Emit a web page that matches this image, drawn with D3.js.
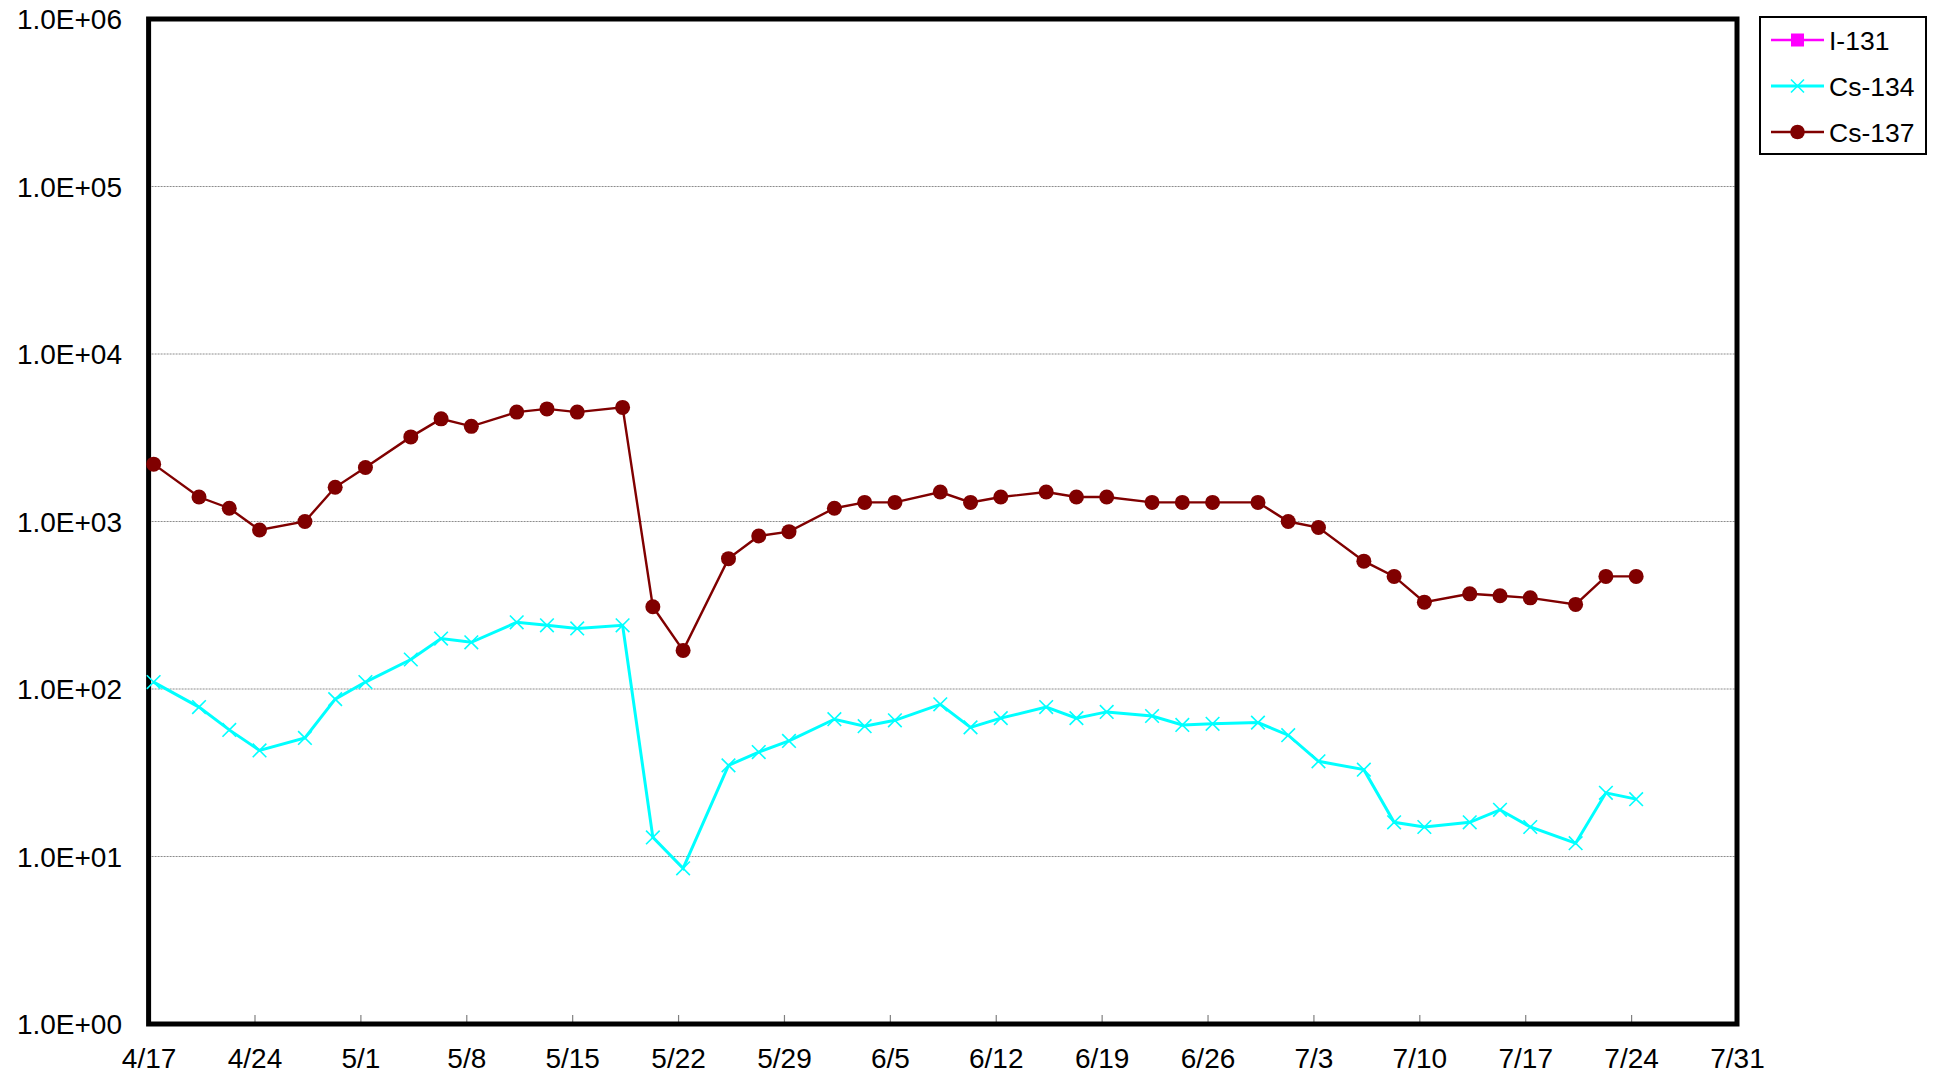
<!doctype html>
<meta charset="utf-8">
<title>I-131 / Cs-134 / Cs-137</title>
<script src="https://cdn.jsdelivr.net/npm/d3@7"></script>
<style>
  body { margin: 0; background: #fff; }
  text { font-family: "Liberation Sans", Arial, sans-serif; fill: #000; }
</style>
<body>
<svg id="chart" width="1933" height="1081"></svg>
<script>

// sampling dates (2011), one sample per date
var dates = ["4/17","4/20","4/22","4/24","4/27","4/29","5/1","5/4","5/6","5/8","5/11",
             "5/13","5/15","5/18","5/20","5/22","5/25","5/27","5/29","6/1","6/3","6/5",
             "6/8","6/10","6/12","6/15","6/17","6/19","6/22","6/24","6/26","6/29","7/1","7/3",
             "7/6","7/8","7/10","7/13","7/15","7/17","7/20","7/22","7/24"];

// I-131 was never detected in this period -> nothing plotted
var i131 = [];

var cs134 = [110, 78, 57, 43, 51, 87, 110, 150, 200, 190, 250,
             240, 230, 240, 13, 8.5, 35, 42, 49, 66, 60, 65,
             81, 59, 67, 78, 67, 73, 69, 61, 62, 63, 53, 37,
             33, 16, 15, 16, 19, 15, 12, 24, 22];

var cs137 = [2200, 1400, 1200, 890, 1000, 1600, 2100, 3200, 4100, 3700, 4500,
             4700, 4500, 4800, 310, 170, 600, 820, 870, 1200, 1300, 1300,
             1500, 1300, 1400, 1500, 1400, 1400, 1300, 1300, 1300, 1300, 1000, 920,
             580, 470, 330, 370, 360, 350, 320, 470, 470];

var xTickLabels = ["4/17","4/24","5/1","5/8","5/15","5/22","5/29","6/5","6/12","6/19","6/26","7/3","7/10","7/17","7/24","7/31"];
var yTickValues = [1, 10, 100, 1000, 10000, 100000, 1000000];

var sampleHour = 8;  // samples were taken in the morning

function parseDay(s, hour) {
  var p = s.split("/");
  return new Date(2011, +p[0] - 1, +p[1], hour || 0);
}

var series = [
  { name: "I-131",  color: "#ff00ff", marker: "square", values: i131 },
  { name: "Cs-134", color: "#00ffff", marker: "cross",  values: cs134 },
  { name: "Cs-137", color: "#800000", marker: "circle", values: cs137 }
];

// plot area (note: "top" is taken by window.top, so use other names)
var plotL = 148.6, plotR = 1737, plotT = 19, plotB = 1024;

var x = d3.scaleTime()
  .domain([parseDay("4/17"), parseDay("7/31")])
  .range([plotL, plotR]);

var y = d3.scaleLog()
  .domain([1, 1e6])
  .range([plotB, plotT]);

var svg = d3.select("#chart");

// grid lines
svg.append("g")
  .selectAll("line")
  .data(yTickValues.slice(1, -1))
  .enter().append("line")
    .attr("x1", plotL).attr("x2", plotR)
    .attr("y1", function(d) { return y(d); })
    .attr("y2", function(d) { return y(d); })
    .attr("stroke", "#8c8c8c")
    .attr("stroke-width", 1)
    .attr("stroke-dasharray", "2,1");

// y labels
svg.append("g")
  .selectAll("text")
  .data(yTickValues)
  .enter().append("text")
    .attr("x", 122)
    .attr("y", function(d) { return y(d); })
    .attr("dy", "0.36em")
    .attr("text-anchor", "end")
    .style("font-size", "28px")
    .text(function(d) { return d3.format(".1e")(d).replace("e", "E").replace(/E([+-])(\d)$/, "E$10$2"); });

// x axis: small inner ticks + labels
var xDates = xTickLabels.map(function(s) { return parseDay(s); });
var xAxis = d3.axisBottom(x)
  .tickValues(xDates)
  .tickSize(0)
  .tickPadding(24)
  .tickFormat(function(d, i) { return xTickLabels[i]; });

var gx = svg.append("g")
  .attr("transform", "translate(0," + plotB + ")")
  .call(xAxis);
gx.select(".domain").remove();
gx.selectAll("text")
  .style("font-size", "28px")
  .style("font-family", "'Liberation Sans', Arial, sans-serif")
  .attr("fill", "#000");
gx.selectAll(".tick").append("line")
  .attr("y1", -2).attr("y2", -9)
  .attr("stroke", "#808080")
  .attr("stroke-width", 1.2)
  .style("display", function(d, i) { return (i === 0 || i === xDates.length - 1) ? "none" : null; });

// plot frame
svg.append("rect")
  .attr("x", plotL).attr("y", plotT)
  .attr("width", plotR - plotL).attr("height", plotB - plotT)
  .attr("fill", "none")
  .attr("stroke", "#000")
  .attr("stroke-width", 5);

// markers
function drawMarker(g, type, color, size) {
  if (type === "circle") {
    g.append("circle").attr("r", size).attr("fill", color);
  } else if (type === "square") {
    g.append("rect").attr("x", -size).attr("y", -size)
      .attr("width", size * 2).attr("height", size * 2).attr("fill", color);
  } else {
    g.append("path")
      .attr("d", "M" + -size + "," + -size + "L" + size + "," + size + "M" + -size + "," + size + "L" + size + "," + -size)
      .attr("stroke", color).attr("stroke-width", 1.6).attr("fill", "none");
  }
}

var line = d3.line()
  .x(function(d) { return x(d.date); })
  .y(function(d) { return y(d.value); });

series.forEach(function(s) {
  var pts = s.values.map(function(v, i) { return { date: parseDay(dates[i], sampleHour), value: v }; });
  if (!pts.length) return;
  var g = svg.append("g");
  g.append("path")
    .datum(pts)
    .attr("d", line)
    .attr("fill", "none")
    .attr("stroke", s.color)
    .attr("stroke-width", s.marker === "cross" ? 3 : 2.4);
  g.selectAll("g.pt")
    .data(pts)
    .enter().append("g")
      .attr("class", "pt")
      .attr("transform", function(d) { return "translate(" + x(d.date) + "," + y(d.value) + ")"; })
      .each(function() { drawMarker(d3.select(this), s.marker, s.color, s.marker === "circle" ? 7.5 : 6.8); });
});

// legend
var legend = svg.append("g").attr("transform", "translate(1760,17)");
legend.append("rect")
  .attr("width", 166).attr("height", 137)
  .attr("fill", "#fff").attr("stroke", "#000").attr("stroke-width", 2);

series.forEach(function(s, i) {
  var ly = 23 + i * 46;
  var row = legend.append("g").attr("transform", "translate(0," + ly + ")");
  row.append("line")
    .attr("x1", 11).attr("x2", 64)
    .attr("stroke", s.color).attr("stroke-width", s.marker === "cross" ? 3 : 2.4);
  var m = row.append("g").attr("transform", "translate(37.5,0)");
  drawMarker(m, s.marker, s.color, s.marker === "circle" ? 7.3 : 6.5);
  row.append("text")
    .attr("x", 69).attr("dy", "0.36em")
    .style("font-size", "26.5px")
    .text(s.name);
});

</script>
</body>
